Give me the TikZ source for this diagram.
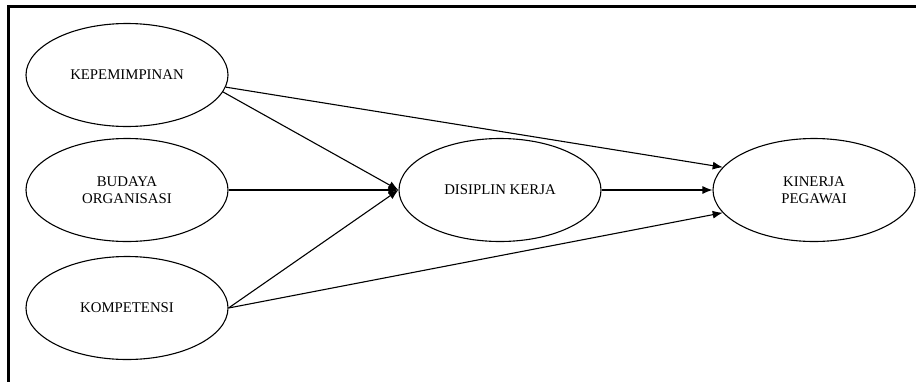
\documentclass[tikz,border=0pt]{standalone}
\usepackage{fontspec}
\setmainfont{Liberation Serif}
\usetikzlibrary{shapes.geometric,arrows.meta}
\tikzset{
  var/.style={draw,ellipse,line width=1.1pt,minimum width=202pt,minimum height=103pt,
    inner sep=0pt,align=center,font=\fontsize{14.8}{17}\selectfont},
}
\begin{document}
\begin{tikzpicture}[x=1pt,y=-1pt]
      \useasboundingbox (0,0) rectangle (916,381);
      \draw[line width=3pt] (8,400) -- (8,6) -- (930,6);
      \draw
        (127,75) node[var] (kep){KEPEMIMPINAN}
        (127,190) node[var] (bud){BUDAYA\\ORGANISASI}
        (127,308) node[var] (kom){KOMPETENSI}
        (500,190) node[var] (dis){DISIPLIN KERJA}
        (814,190) node[var] (kin){KINERJA\\PEGAWAI};
      \begin{scope}[-{Latex[length=10pt,width=8pt]},line width=1.1pt]
        \draw (kep.-10) to (dis.west);
        \draw (kep.-7) to (kin.166);
        \draw (bud.east) to (dis.west);
        \draw (kom.east) to (dis.west);
        \draw (kom.east) to (kin.194);
        \draw (dis.east) to (kin.west);
      \end{scope}
    \end{tikzpicture}
\end{document}
